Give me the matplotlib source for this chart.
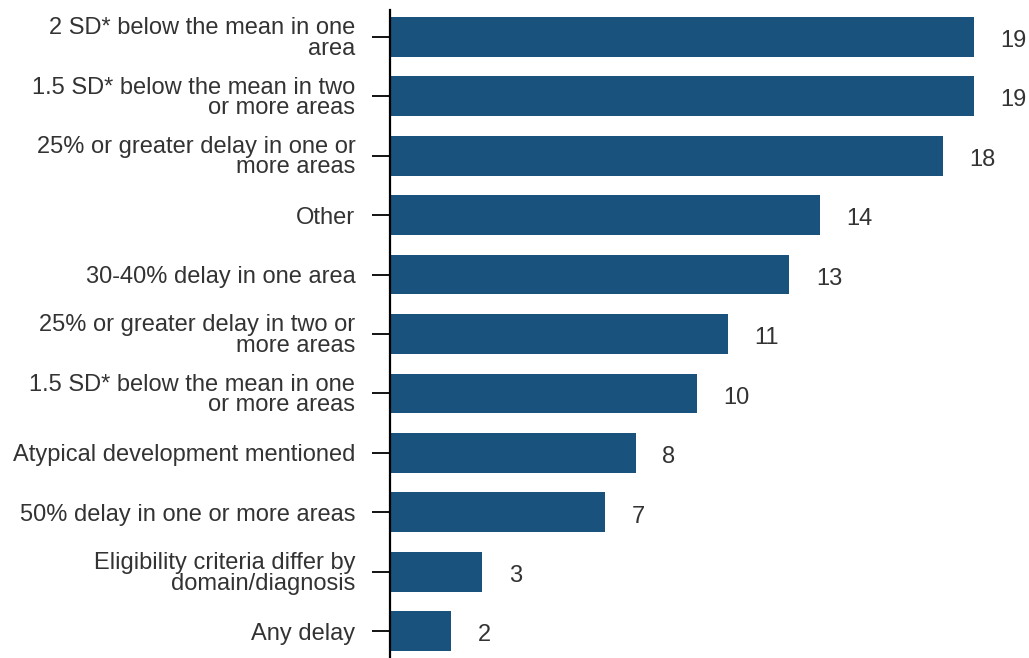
import matplotlib.pyplot as plt

plt.rcParams['font.family'] = ['Liberation Sans', 'DejaVu Sans']

categories = [
    '2 SD* below the mean in one\narea',
    '1.5 SD* below the mean in two\nor more areas',
    '25% or greater delay in one or\nmore areas',
    'Other',
    '30-40% delay in one area',
    '25% or greater delay in two or\nmore areas',
    '1.5 SD* below the mean in one\nor more areas',
    'Atypical development mentioned',
    '50% delay in one or more areas',
    'Eligibility criteria differ by\ndomain/diagnosis',
    'Any delay',
]
values = [19, 19, 18, 14, 13, 11, 10, 8, 7, 3, 2]

fig = plt.figure(figsize=(10.29, 6.58), dpi=100)
ax = fig.add_axes([390 / 1029, 0, 1 - 390 / 1029, 1 - 10 / 658])

pos = list(range(len(values)))
ax.barh(pos, values, height=0.67, color='#1a527e')
ax.set_ylim(len(values) - 0.55, -0.45)
ax.set_xlim(0, (1029 - 390) / 30.73)

for y, v in zip(pos, values):
    ax.annotate(str(v), (v, y), xytext=(19, -3), textcoords='offset points',
                ha='left', va='center', fontsize=17, color='#333333')

ax.set_yticks(pos)
ax.set_yticklabels(categories, fontsize=17, color='#333333', linespacing=0.9,
                   ha='right', multialignment='right')
ax.tick_params(axis='y', length=13, width=1.3, pad=12, color='black')
ax.set_xticks([])
for s in ['top', 'right', 'bottom']:
    ax.spines[s].set_visible(False)
ax.spines['left'].set_linewidth(1.6)

fig.savefig('out.png', dpi=100)
